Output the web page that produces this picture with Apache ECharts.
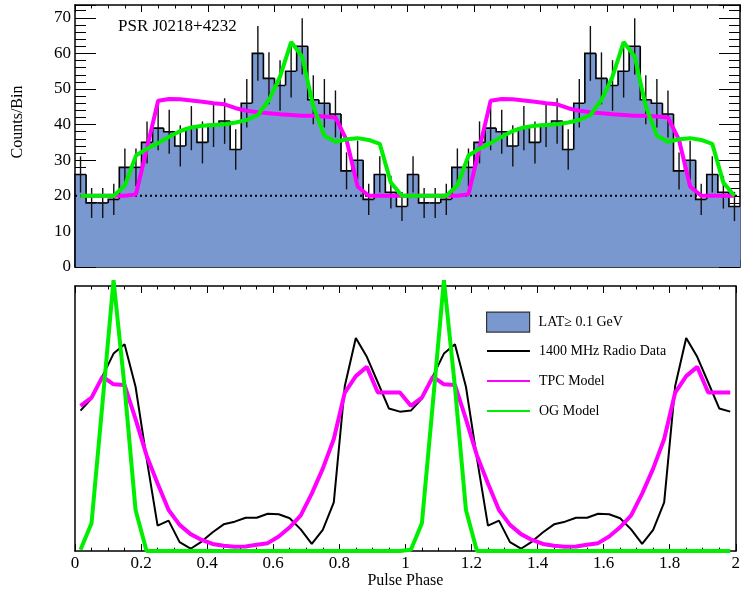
<!DOCTYPE html>
<html><head><meta charset="utf-8">
<script src="https://cdn.jsdelivr.net/npm/echarts@6/dist/echarts.min.js"></script>
<style>html,body{margin:0;padding:0;background:#fff}#c{width:743px;height:590px}</style>
</head><body><div id="c"></div>
<script>
// ---- data (one rotation, 30 phase bins; the figure shows two rotations) ----
const binsPerCycle = 30;
const latCounts = [26,18,18,19,28,28,35,39,38,34,39,35,40,41,33,46,60,53,51,55,62,47,46,43,27,30,19,26,21,17];
const latErrors = [5.1,4.2,4.2,4.4,5.3,5.3,5.9,6.2,6.2,5.8,6.2,5.9,6.3,6.4,5.7,6.8,7.7,7.3,7.1,7.4,7.9,6.9,6.8,6.6,5.2,5.5,4.4,5.1,4.6,4.1];
const tpcTop = [20,20,20,20,20,20.4,33.5,46.7,47.2,47.1,46.8,46.4,46.0,45.7,44.6,43.9,43.5,43.2,42.9,42.7,42.5,42.5,42.3,42.0,35.7,22.6,20,20,20,20];
const ogTop = [20,20,20,20,22.9,31.3,33.2,34.8,36.6,38.2,39.2,39.7,39.9,40.1,40.6,41.3,42.7,46.9,53.5,63.2,59.1,45.1,36.9,35.2,35.9,36.2,35.7,34.6,23.7,20];
const radioBottom = [0.53,0.575,0.66,0.745,0.78,0.62,0.35,0.096,0.115,0.034,0.009,0.036,0.071,0.101,0.111,0.126,0.126,0.141,0.139,0.124,0.082,0.027,0.080,0.184,0.623,0.804,0.733,0.636,0.538,0.526];
const tpcBottom = [0.548,0.579,0.658,0.629,0.627,0.498,0.361,0.255,0.155,0.099,0.064,0.042,0.027,0.020,0.016,0.017,0.024,0.030,0.055,0.090,0.135,0.217,0.311,0.423,0.598,0.660,0.695,0.598,0.598,0.598];
const ogBottom = [0.005,0.105,0.56,1.022,0.62,0.155,0,0,0,0,0,0,0,0,0,0,0,0,0,0,0,0,0,0,0,0,0,0,0,0];
const baselineLevel = 20;
const seriesNames = ['LAT\u2265 0.1 GeV','1400 MHz Radio Data','TPC Model','OG Model'];

// ---- build ----
const FILL = '#7a98d0';
const MAG = '#ff00ff', GRN = '#00ee00';
const SERIF = '"Liberation Serif","Times New Roman",serif';
const binW = 1 / binsPerCycle;
const fold = a => a.concat(a);
const counts = fold(latCounts), errs = fold(latErrors);
const nBins = counts.length;
const centers = [];
for (let i = 0; i < nBins; i++) centers.push((i + 0.5) * binW);
const histData = counts.map((v, i) => [i * binW, (i + 1) * binW, v, errs[i], i > 0 ? counts[i - 1] : 0]);
const pts = a => fold(a).map((v, i) => [centers[i], v]);

const axisLineStyle = {color:'#000', width:1.5};
function xAx(grid, pos, labels){
  return {type:'value', gridIndex:grid, position:pos, min:0, max:2, interval:0.2,
    axisLine:{show:true, onZero:false, lineStyle:axisLineStyle},
    axisTick:{show:true, inside:true, length:7, lineStyle:{color:'#000', width:1}},
    minorTick:{show:true, splitNumber:4, length:3.5, lineStyle:{color:'#000', width:1}},
    splitLine:{show:false}, minorSplitLine:{show:false},
    axisLabel:{show:labels, color:'#000', fontFamily:SERIF, fontSize:17, margin:4},
    name: labels ? 'Pulse Phase' : '', nameLocation:'middle', nameGap:18,
    nameTextStyle:{color:'#000', fontFamily:SERIF, fontSize:16}
  };
}
function yTop(pos, labels){
  return {type:'value', gridIndex:0, position:pos, min:0, max:73.6, interval:10,
    axisLine:{show:true, onZero:false, lineStyle:axisLineStyle},
    axisTick:{show:true, inside:true, length:21, lineStyle:{color:'#000', width:1}},
    minorTick:{show:true, splitNumber:5, length:11, lineStyle:{color:'#000', width:1}},
    splitLine:{show:false}, minorSplitLine:{show:false},
    axisLabel:{show:labels, color:'#000', fontFamily:SERIF, fontSize:17, margin:4, showMaxLabel:false,
      formatter: v => (Math.abs(v % 10) < 1e-6 ? String(v) : '')}
  };
}
function yBot(pos){
  return {type:'value', gridIndex:1, position:pos, min:0, max:1,
    axisLine:{show:true, onZero:false, lineStyle:axisLineStyle},
    axisTick:{show:false}, axisLabel:{show:false}, splitLine:{show:false}};
}
const legendCenters = [321.5, 351, 381, 411];
function oneLegend(i){
  const item = i === 0
    ? {name:seriesNames[0], icon:'rect', itemStyle:{color:FILL, borderColor:'#333', borderWidth:1.2}}
    : {name:seriesNames[i], itemStyle:{opacity:0}};
  return {orient:'vertical', left:486, top: legendCenters[i] - (i === 0 ? 10 : 8), padding:0,
    itemWidth:43, itemHeight:20, selectedMode:false,
    textStyle:{fontFamily:SERIF, fontSize:14, color:'#000', padding:[0,0,0,4]},
    data:[item]};
}

const chart = echarts.init(document.getElementById('c'), null, {renderer:'canvas'});
chart.setOption({
  animation:false,
  backgroundColor:'#fff',
  title:{text:'PSR J0218+4232', left:118, top:18, padding:0,
    textStyle:{fontFamily:SERIF, fontSize:17, fontWeight:'normal', color:'#000'}},
  graphic:[{type:'text', x:18, y:122, rotation:Math.PI/2,
    style:{text:'Counts/Bin', font:'16px ' + SERIF, fill:'#000', align:'center', verticalAlign:'middle', textAlign:'center', textVerticalAlign:'middle'}}],
  grid:[{left:75, top:5, width:665, height:262}, {left:75, top:286, width:665, height:267}],
  xAxis:[xAx(0,'bottom',false), xAx(0,'top',false), xAx(1,'bottom',true), xAx(1,'top',false)],
  yAxis:[yTop('left',true), yTop('right',false), yBot('left'), yBot('right')],
  legend:[oneLegend(0), oneLegend(1), oneLegend(2), oneLegend(3)],
  series:[
    {type:'custom', name:seriesNames[0], xAxisIndex:0, yAxisIndex:0, z:2,
      itemStyle:{color:FILL, borderColor:'#333'},
      encode:{x:[0,1], y:[2]},
      data:histData,
      renderItem:function(params, api){
        const x0 = api.value(0), x1 = api.value(1), v = api.value(2), e = api.value(3), pv = api.value(4);
        const tl = api.coord([x0, v]), br = api.coord([x1, 0]), tr = api.coord([x1, v]), pp = api.coord([x0, pv]);
        const xc = (x0 + x1) / 2;
        const et = api.coord([xc, v + e]), eb = api.coord([xc, v - e]);
        return {type:'group', children:[
          {type:'rect', shape:{x:tl[0] - 0.5, y:tl[1], width:br[0]-tl[0] + 1, height:br[1]-tl[1]}, style:{fill:FILL}},
          {type:'polyline', shape:{points:[pp, tl, tr]}, style:{stroke:'#000', lineWidth:1.6, fill:null}},
          {type:'line', shape:{x1:et[0], y1:et[1], x2:eb[0], y2:eb[1]}, style:{stroke:'#111', lineWidth:1.4}}
        ]};
      }
    },
    {type:'line', name:'baseline', xAxisIndex:0, yAxisIndex:0, z:3, silent:true, symbol:'none',
      data:[[0, baselineLevel],[2, baselineLevel]],
      lineStyle:{color:'#000', width:2, type:[2,3]}},
    {type:'line', name:seriesNames[2], xAxisIndex:0, yAxisIndex:0, z:4, symbol:'none',
      data:pts(tpcTop), itemStyle:{color:MAG}, lineStyle:{color:MAG, width:4}},
    {type:'line', name:seriesNames[3], xAxisIndex:0, yAxisIndex:0, z:5, symbol:'none',
      data:pts(ogTop), itemStyle:{color:GRN}, lineStyle:{color:GRN, width:4}},
    {type:'line', name:seriesNames[1], xAxisIndex:2, yAxisIndex:2, z:3, symbol:'none',
      data:pts(radioBottom), itemStyle:{color:'#000'}, lineStyle:{color:'#000', width:2}},
    {type:'line', name:seriesNames[2], xAxisIndex:2, yAxisIndex:2, z:4, symbol:'none',
      data:pts(tpcBottom), itemStyle:{color:MAG}, lineStyle:{color:MAG, width:4}},
    {type:'line', name:seriesNames[3], xAxisIndex:2, yAxisIndex:2, z:5, symbol:'none', clip:false,
      data:pts(ogBottom), itemStyle:{color:GRN}, lineStyle:{color:GRN, width:4}}
  ]
});
</script></body></html>
